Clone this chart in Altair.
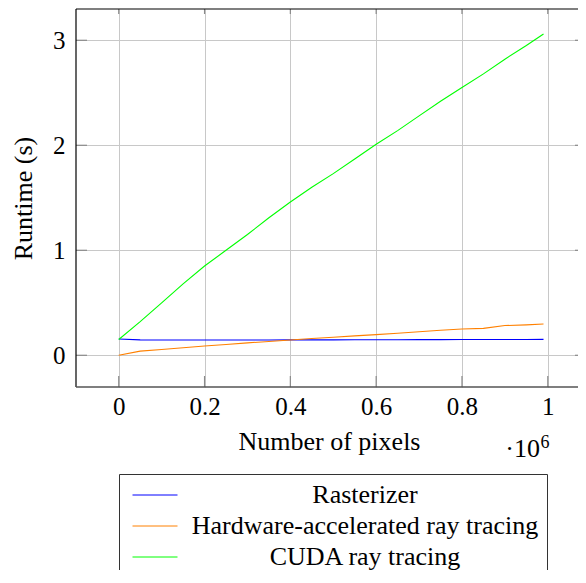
import altair as alt
import pandas as pd

# ---- data ----
pixels = [0, 50000, 100000, 150000, 200000, 250000, 300000, 350000, 400000, 450000,
          500000, 550000, 600000, 650000, 700000, 750000, 800000, 850000, 900000, 950000, 990000]
rasterizer = [0.155, 0.147, 0.146, 0.146, 0.146, 0.146, 0.146, 0.146, 0.147, 0.147,
              0.147, 0.148, 0.148, 0.148, 0.149, 0.149, 0.150, 0.150, 0.151, 0.151, 0.152]
hw_rt = [0.0, 0.04, 0.055, 0.072, 0.089, 0.103, 0.118, 0.132, 0.146, 0.16,
         0.172, 0.185, 0.197, 0.21, 0.224, 0.238, 0.25, 0.256, 0.283, 0.29, 0.298]
cuda_rt = [0.15, 0.32, 0.50, 0.68, 0.85, 1.00, 1.15, 1.31, 1.46, 1.60,
           1.73, 1.87, 2.01, 2.14, 2.28, 2.42, 2.55, 2.68, 2.82, 2.95, 3.06]

series_names = ["Rasterizer", "Hardware-accelerated ray tracing", "CUDA ray tracing"]
series_colors = ["#0000ff", "#ff8000", "#00ff00"]
x_ticks = [0, 200000, 400000, 600000, 800000, 1000000]
y_ticks = [0, 1, 2, 3]

rows = []
for name, vals in zip(series_names, [rasterizer, hw_rt, cuda_rt]):
    for p, v in zip(pixels, vals):
        rows.append({"pixels": p, "runtime": v, "series": name})
df = pd.DataFrame(rows)

FONT = "Times New Roman"
W, H = 502, 378
xscale = alt.Scale(domain=[-99600, 1070400], nice=False, zero=False)
yscale = alt.Scale(domain=[-0.302, 3.298], nice=False, zero=False)
tick_color = "#8a8a8a"

x_axis = alt.Axis(values=x_ticks, title="Number of pixels",
                  labelExpr="format(datum.value / 1000000, '~g')",
                  labelFont=FONT, titleFont=FONT,
                  labelPadding=7, titleX=253, titleY=62,
                  titleBaseline="alphabetic", titleAlign="center")
y_axis = alt.Axis(values=y_ticks, title="Runtime (s)", labelPadding=11,
                  labelFont=FONT, titleFont=FONT,
                  titleX=-53, titleY=H / 2, titleAngle=270,
                  titleBaseline="middle", titleAlign="center")

lines = alt.Chart(df).mark_line(strokeWidth=1.1).encode(
    x=alt.X("pixels:Q", scale=xscale, axis=x_axis),
    y=alt.Y("runtime:Q", scale=yscale, axis=y_axis),
    color=alt.Color("series:N",
                    scale=alt.Scale(domain=series_names, range=series_colors),
                    legend=alt.Legend(title=None, orient="none", legendX=43, legendY=465,
                                      strokeColor="#333333", fillColor="white", padding=8,
                                      labelFont=FONT, labelFontSize=26, labelColor="black",
                                      labelAlign="center", labelOffset=212, labelLimit=1000,
                                      symbolType="M-1,0H5", symbolSize=225,
                                      symbolStrokeWidth=1, rowPadding=5)),
)

xt = pd.DataFrame({"pixels": x_ticks})
yt = pd.DataFrame({"runtime": y_ticks})

bottom_ticks = alt.Chart(xt).mark_rule(color=tick_color, strokeWidth=1.2).encode(
    x=alt.X("pixels:Q", scale=xscale, axis=x_axis), y=alt.value(H - 11), y2=alt.value(H))
top_ticks = alt.Chart(xt).mark_rule(color=tick_color, strokeWidth=1.2).encode(
    x=alt.X("pixels:Q", scale=xscale, axis=x_axis), y=alt.value(0), y2=alt.value(5))
left_ticks = alt.Chart(yt).mark_rule(color=tick_color, strokeWidth=1.2).encode(
    y=alt.Y("runtime:Q", scale=yscale, axis=y_axis), x=alt.value(0), x2=alt.value(11))
right_ticks = alt.Chart(yt).mark_rule(color=tick_color, strokeWidth=1.2).encode(
    y=alt.Y("runtime:Q", scale=yscale, axis=y_axis), x=alt.value(W - 3), x2=alt.value(W))

# frame: left and top black, bottom dark gray (right side lies beyond the page)
frame_left = alt.Chart(pd.DataFrame({"k": [0]})).mark_rule(color="black", strokeWidth=1.2).encode(
    x=alt.value(0), y=alt.value(0), y2=alt.value(H))
frame_top = alt.Chart(pd.DataFrame({"k": [0]})).mark_rule(color="black", strokeWidth=1.2).encode(
    y=alt.value(0), x=alt.value(0), x2=alt.value(W))
frame_bottom = alt.Chart(pd.DataFrame({"k": [0]})).mark_rule(color="#555555", strokeWidth=1.5).encode(
    y=alt.value(H), x=alt.value(0), x2=alt.value(W))

exp_base = alt.Chart(pd.DataFrame({"t": ["·10"]})).mark_text(
    align="right", baseline="alphabetic", font=FONT, fontSize=26, color="black"
).encode(text="t:N", x=alt.value(464), y=alt.value(447.7))
exp_sup = alt.Chart(pd.DataFrame({"t": ["6"]})).mark_text(
    align="left", baseline="alphabetic", font=FONT, fontSize=18, color="black"
).encode(text="t:N", x=alt.value(464.5), y=alt.value(439))

chart = alt.layer(
    lines, bottom_ticks, top_ticks, left_ticks, right_ticks,
    frame_left, frame_top, frame_bottom, exp_base, exp_sup
).properties(
    width=W, height=H,
    padding={"left": 68, "top": 1, "right": 0, "bottom": 183},
    autosize=alt.AutoSizeParams(type="none"),
).configure(
    font=FONT
).configure_view(
    strokeWidth=0
).configure_axis(
    labelFont=FONT, labelFontSize=25, labelColor="black",
    titleFont=FONT, titleFontSize=26, titleColor="black", titleFontWeight="normal",
    domain=False, ticks=False, tickSize=0,
    grid=True, gridColor="#c8c8c8", gridWidth=1,
).configure_legend(
    labelFont=FONT
).configure_text(
    font=FONT
)

chart.save("out.html", embed_options={"renderer": "svg", "actions": False})
